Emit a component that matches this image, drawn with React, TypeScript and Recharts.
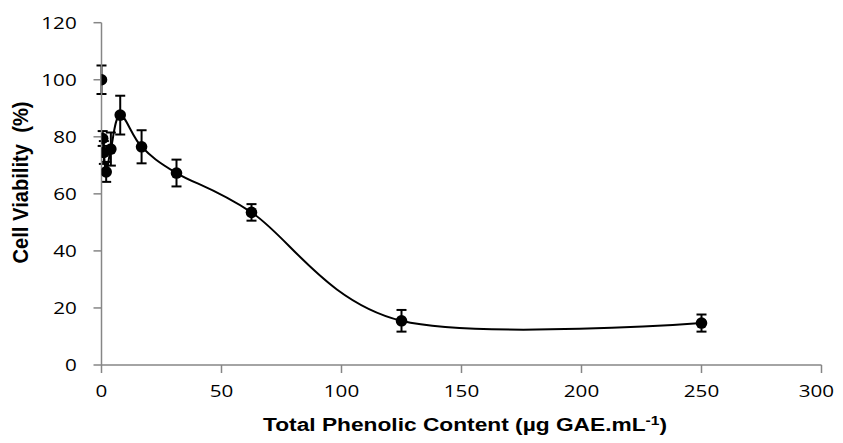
import React from 'react';
import { ComposedChart, Line, Scatter, ErrorBar, XAxis, YAxis } from 'recharts';

// concentration (µg GAE/mL) and mean viability with SD
const conc = [0, 0.49, 0.98, 1.95, 3.9, 7.8, 16.7, 31.25, 62.5, 125, 250];
const viability = [100, 79.4, 74.5, 67.7, 75.7, 87.6, 76.5, 67.3, 53.5, 15.5, 14.7];
const sd = [5, 2.6, 4, 3.5, 5.8, 6.8, 5.8, 4.7, 2.9, 3.8, 3];

const xTicks = [0, 50, 100, 150, 200, 250, 300];
const yTicks = [0, 20, 40, 60, 80, 100, 120];

const points = conc.map((x, i) => ({ x, y: viability[i], err: sd[i] }));
// the smoothed line starts after the control point
const linePoints = points.slice(1);

// Excel-like smoothed line (uniform Catmull-Rom / cardinal with tension 0)
const smoothCurve = (context: any) => {
  const k = 1 / 6;
  let x0 = NaN, y0 = NaN, x1 = NaN, y1 = NaN, x2 = NaN, y2 = NaN;
  let p = 0;
  let line: number = NaN;
  const seg = (x: number, y: number) =>
    context.bezierCurveTo(
      x1 + k * (x2 - x0), y1 + k * (y2 - y0),
      x2 + k * (x1 - x), y2 + k * (y1 - y),
      x2, y2
    );
  return {
    areaStart() { line = 0; },
    areaEnd() { line = NaN; },
    lineStart() { x0 = x1 = x2 = y0 = y1 = y2 = NaN; p = 0; },
    lineEnd() {
      if (p === 2) context.lineTo(x2, y2);
      else if (p === 3) seg(x1, y1);
      if (line || (line !== 0 && p === 1)) context.closePath();
      line = 1 - line;
    },
    point(xx: any, yy: any) {
      const x = +xx, y = +yy;
      switch (p) {
        case 0:
          p = 1;
          if (line) context.lineTo(x, y); else context.moveTo(x, y);
          break;
        case 1:
          p = 2; x1 = x; y1 = y;
          break;
        case 2:
          p = 3;
          seg(x, y);
          break;
        default:
          seg(x, y);
      }
      x0 = x1; x1 = x2; x2 = x;
      y0 = y1; y1 = y2; y2 = y;
    },
  };
};

const axisColor = '#868686';
const tickFamily = '"Open Sans", sans-serif';
const tickSize = 16.5;
const hStretch = 1.25; // the original picture is stretched sideways
const rightLimit = 834; // keep labels inside the visible page

const YTick = (props: any) => {
  const { x, y, payload } = props;
  return (
    <text
      transform={`translate(${x},${y}) scale(${hStretch},1)`}
      textAnchor="end"
      dy="0.36em"
      fontFamily={tickFamily}
      fontSize={tickSize}
      fill="#000"
    >
      {payload.value}
    </text>
  );
};

const XTick = (props: any) => {
  const { x, y, payload } = props;
  const half = (String(payload.value).length * 0.572 * tickSize * hStretch) / 2;
  const cx = Math.min(x, rightLimit - half);
  return (
    <text
      transform={`translate(${cx},${y}) scale(${hStretch},1)`}
      textAnchor="middle"
      dy="0.72em"
      fontFamily={tickFamily}
      fontSize={tickSize}
      fill="#000"
    >
      {payload.value}
    </text>
  );
};

const Dot = (props: any) => {
  const { cx, cy } = props;
  if (cx == null || cy == null) return null;
  return <circle cx={cx} cy={cy} r={5.8} fill="#000" />;
};

export default function App() {
  // whole window: cancel the body margin so the chart uses page coordinates
  const W = 843;
  const H = 443;
  return (
    <div style={{ position: 'relative', width: W, height: H, margin: -8, overflow: 'hidden' }}>
      <ComposedChart
        width={W}
        height={H}
        margin={{ top: 22.7, right: 21.5, left: 0, bottom: 28 }}
      >
        <XAxis
          dataKey="x"
          type="number"
          domain={[0, 300]}
          ticks={xTicks}
          allowDataOverflow
          stroke={axisColor}
          strokeWidth={1.5}
          tickSize={8}
          tickMargin={12}
          tick={<XTick />}
          height={50}
        />
        <YAxis
          type="number"
          domain={[0, 120]}
          ticks={yTicks}
          stroke={axisColor}
          strokeWidth={1.5}
          tickSize={8}
          tickMargin={16.8}
          tick={<YTick />}
          width={101.5}
        />
        <Line
          data={linePoints}
          dataKey="y"
          type={smoothCurve as any}
          stroke="#000"
          strokeWidth={2}
          dot={false}
          activeDot={false}
          isAnimationActive={false}
        />
        <Scatter
          data={points}
          dataKey="y"
          fill="#000"
          shape={<Dot />}
          isAnimationActive={false}
        >
          <ErrorBar dataKey="err" direction="y" width={5} stroke="#000" strokeWidth={2} />
        </Scatter>
      </ComposedChart>
      <svg
        width={W}
        height={H}
        style={{ position: 'absolute', left: 0, top: 0, pointerEvents: 'none' }}
      >
        <text
          x={465}
          y={431}
          textAnchor="middle"
          textLength={404}
          lengthAdjust="spacingAndGlyphs"
          fontFamily='"Liberation Sans", Arial, sans-serif'
          fontWeight="bold"
          fontSize={17.5}
          fill="#000"
        >
          Total Phenolic Content (µg GAE.mL
          <tspan dy={-6} fontSize={12}>-1</tspan>
          <tspan dy={6}>)</tspan>
        </text>
        <text
          transform={`translate(28,182.5) scale(${hStretch},1) rotate(-90)`}
          textAnchor="middle"
          textLength={162}
          lengthAdjust="spacingAndGlyphs"
          fontFamily='"Liberation Sans", Arial, sans-serif'
          fontWeight="bold"
          fontSize={17.5}
          fill="#000"
          style={{ whiteSpace: 'pre' }}
        >
          Cell Viability  (%)
        </text>
      </svg>
    </div>
  );
}
